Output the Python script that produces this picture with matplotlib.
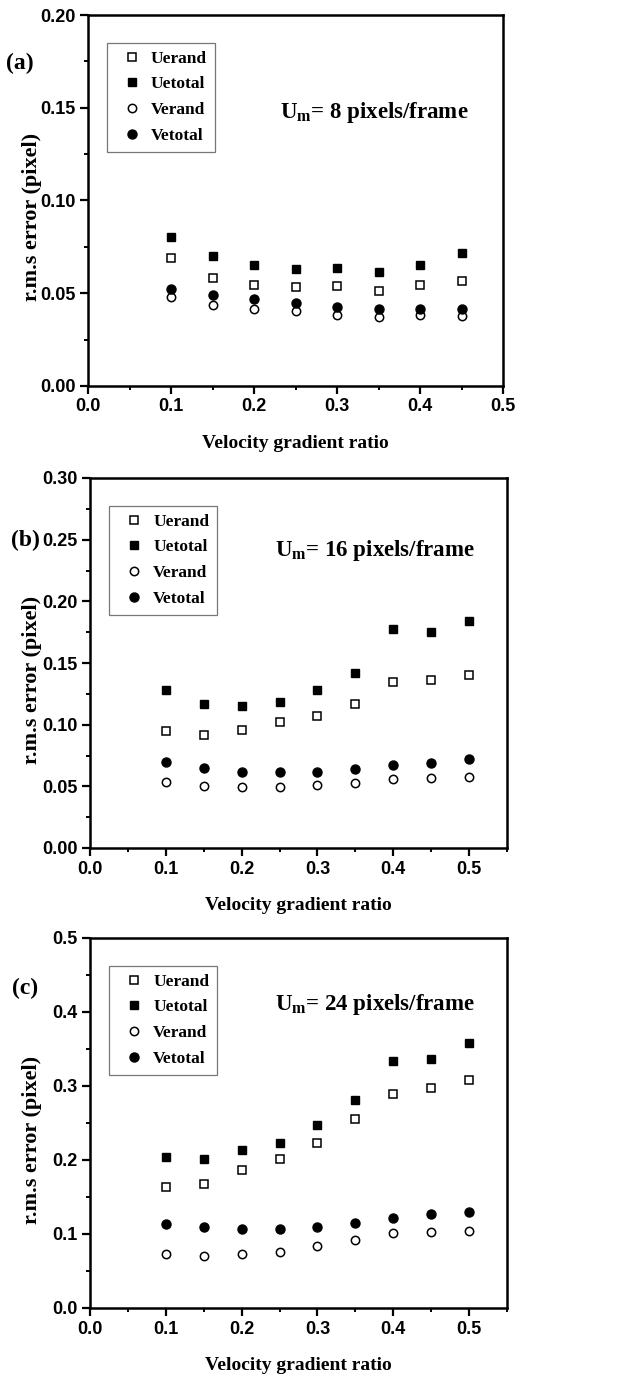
import matplotlib
matplotlib.use("Agg")
import matplotlib.pyplot as plt
from matplotlib.ticker import MultipleLocator, FormatStrFormatter

plt.rcParams['mathtext.fontset'] = 'custom'
plt.rcParams['mathtext.rm'] = 'Liberation Serif'
plt.rcParams['mathtext.bf'] = 'Liberation Serif:bold'
plt.rcParams['mathtext.it'] = 'Liberation Serif:italic'

# ---- data ----
x_a = [0.10, 0.15, 0.20, 0.25, 0.30, 0.35, 0.40, 0.45]
uerand_a = [0.0692, 0.0584, 0.0544, 0.0532, 0.0537, 0.0514, 0.0546, 0.0564]
uetotal_a = [0.0805, 0.0699, 0.0650, 0.0629, 0.0638, 0.0616, 0.0652, 0.0717]
verand_a = [0.0478, 0.0438, 0.0417, 0.0403, 0.0385, 0.0374, 0.0381, 0.0377]
vetotal_a = [0.0525, 0.0489, 0.0467, 0.0446, 0.0428, 0.0415, 0.0415, 0.0417]

x_b = [0.10, 0.15, 0.20, 0.25, 0.30, 0.35, 0.40, 0.45, 0.50]
uerand_b = [0.0949, 0.0914, 0.0959, 0.1024, 0.1073, 0.1168, 0.1346, 0.1359, 0.1403]
uetotal_b = [0.1284, 0.1170, 0.1154, 0.1186, 0.1278, 0.1422, 0.1773, 0.1751, 0.1841]
verand_b = [0.0535, 0.0500, 0.0495, 0.0497, 0.0508, 0.0530, 0.0560, 0.0565, 0.0578]
vetotal_b = [0.0700, 0.0646, 0.0616, 0.0614, 0.0616, 0.0641, 0.0676, 0.0692, 0.0719]

x_c = [0.10, 0.15, 0.20, 0.25, 0.30, 0.35, 0.40, 0.45, 0.50]
uerand_c = [0.1635, 0.1671, 0.1860, 0.2009, 0.2234, 0.2559, 0.2887, 0.2968, 0.3086]
uetotal_c = [0.2045, 0.2018, 0.2135, 0.2234, 0.2468, 0.2811, 0.3342, 0.3360, 0.3580]
verand_c = [0.0734, 0.0707, 0.0734, 0.0752, 0.0838, 0.0914, 0.1014, 0.1023, 0.1041]
vetotal_c = [0.1135, 0.1090, 0.1068, 0.1068, 0.1090, 0.1153, 0.1216, 0.1266, 0.1302]

series_names = ["Uerand", "Uetotal", "Verand", "Vetotal"]
panel_labels = ["(a)", "(b)", "(c)"]
speeds = [8, 16, 24]

SERIF = 'Liberation Serif'
SANS = 'Liberation Sans'

fig = plt.figure(figsize=(6.31, 13.76), dpi=100)

panels = [
    dict(rect=[88/631, 1-386/1376, 415/631, 371/1376], x=x_a,
         ys=[uerand_a, uetotal_a, verand_a, vetotal_a], xlim=(0, 0.5), ylim=(0, 0.20),
         ymaj=0.05, ymin=0.025, yfmt='%.2f', leg_y=0.925, ann=(0.462, 0.736),
         ylx=-0.111, lab=(6, 63)),
    dict(rect=[90/631, 1-848/1376, 417/631, 370/1376], x=x_b,
         ys=[uerand_b, uetotal_b, verand_b, vetotal_b], xlim=(0, 0.55), ylim=(0, 0.30),
         ymaj=0.05, ymin=0.025, yfmt='%.2f', leg_y=0.925, ann=(0.443, 0.805),
         ylx=-0.115, lab=(11, 540)),
    dict(rect=[90/631, 1-1308/1376, 417/631, 370/1376], x=x_c,
         ys=[uerand_c, uetotal_c, verand_c, vetotal_c], xlim=(0, 0.55), ylim=(0, 0.5),
         ymaj=0.1, ymin=0.05, yfmt='%.1f', leg_y=0.925, ann=(0.443, 0.819),
         ylx=-0.115, lab=(12, 988)),
]

styles = [
    dict(marker='s', mfc='white', mec='black', ms=5.5, mew=1.1),
    dict(marker='s', mfc='black', mec='black', ms=6, mew=1.0),
    dict(marker='o', mfc='white', mec='black', ms=6, mew=1.1),
    dict(marker='o', mfc='black', mec='black', ms=6.5, mew=1.0),
]

for i, p in enumerate(panels):
    ax = fig.add_axes(p['rect'])
    for name, y, st in zip(series_names, p['ys'], styles):
        ax.plot(p['x'], y, linestyle='none', label=name, **st)
    ax.set_xlim(*p['xlim'])
    ax.set_ylim(*p['ylim'])
    ax.xaxis.set_major_locator(MultipleLocator(0.1))
    ax.xaxis.set_minor_locator(MultipleLocator(0.05))
    ax.yaxis.set_major_locator(MultipleLocator(p['ymaj']))
    ax.yaxis.set_minor_locator(MultipleLocator(p['ymin']))
    ax.xaxis.set_major_formatter(FormatStrFormatter('%.1f'))
    ax.yaxis.set_major_formatter(FormatStrFormatter(p['yfmt']))
    for s in ax.spines.values():
        s.set_linewidth(1.8)
    ax.tick_params(which='major', direction='out', length=6, width=1.6, pad=3,
                   top=False, right=False)
    ax.tick_params(which='minor', direction='out', length=3, width=1.4,
                   top=False, right=False)
    for t in ax.get_xticklabels() + ax.get_yticklabels():
        t.set_fontfamily(SANS)
        t.set_fontweight('bold')
        t.set_fontsize(13)
    ax.set_xlabel("Velocity gradient ratio", fontfamily=SERIF, fontweight='bold',
                  fontsize=14, labelpad=14)
    ax.set_ylabel("r.m.s error (pixel)", fontfamily=SERIF, fontweight='bold',
                  fontsize=16)
    ax.yaxis.set_label_coords(p['ylx'], 0.455)
    leg = ax.legend(loc='upper left', bbox_to_anchor=(0.045, p['leg_y']),
                    prop=dict(family=SERIF, weight='bold', size=12.5),
                    frameon=True, fancybox=False, edgecolor='#555555',
                    handlelength=2.0, handletextpad=0.1, labelspacing=0.55,
                    borderpad=0.45, borderaxespad=0.0)
    leg.get_frame().set_linewidth(0.9)
    ax.text(p['ann'][0], p['ann'][1],
            r"U$_{\mathbf{m}}$= %d pixels/frame" % speeds[i],
            transform=ax.transAxes, fontfamily=SERIF, fontweight='bold',
            fontsize=16.5, va='center', ha='left')
    fig.text(p['lab'][0]/631, 1 - p['lab'][1]/1376, panel_labels[i],
             fontfamily=SERIF, fontweight='bold', fontsize=17,
             va='center', ha='left')

fig.savefig("out.png", dpi=100)
